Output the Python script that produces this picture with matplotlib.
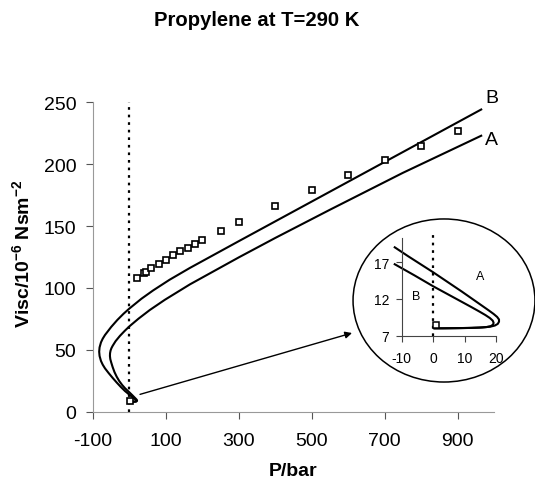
import numpy as np
import matplotlib
matplotlib.use('Agg')
import matplotlib.pyplot as plt
from matplotlib.patches import Ellipse

plt.rcParams['font.family'] = ['Liberation Sans', 'DejaVu Sans']
plt.rcParams['mathtext.fontset'] = 'custom'
plt.rcParams['mathtext.rm'] = 'Liberation Sans'
plt.rcParams['mathtext.bf'] = 'Liberation Sans:bold'
plt.rcParams['axes.unicode_minus'] = False

# ── data ─────────────────────────────────────────────────────────────────────
# model curve A (pressure in bar, viscosity in 10^-6 Nsm^-2), traced from the
# liquid end round the loop and up to high pressure
a_p = [0.3, 4, 8, 12, 15.5, 18, 19.5, 20.4, 20.8, 20.8, 20.2, 19.1, 17.5,
       15.5, 13, 9, 4.5, 0, -4, -8, -12.2, -20, -28, -35, -41, -46, -50,
       -52.5, -53.5, -53.2, -51.7, -49.3, -46.1, -38, -26, -13, 0, 25, 56,
       97, 166, 300, 400, 550, 750, 965]
a_v = [8.0, 8.01, 8.03, 8.06, 8.12, 8.22, 8.38, 8.6, 8.9, 9.2, 9.55, 9.95,
       10.45, 11.05, 11.8, 13.0, 14.3, 15.6, 16.7, 17.8, 19.0, 21.6, 24.8,
       28.3, 32.0, 36.0, 39.8, 42.5, 45.0, 47.3, 49.5, 51.4, 53.2, 57.0, 61.3,
       65.3, 69.0, 75.2, 82.2, 90.4, 102.9, 124.7, 140.4, 163.2, 193.0, 223.0]

# model curve B
b_p = [0.5, 3, 7, 11, 14.5, 16.8, 18.2, 18.9, 19.1, 18.8, 17.9, 16.5, 14.5,
       12, 6, 0, -6, -12.2, -24, -35, -46, -57, -67, -73.3, -78.1, -81.9,
       -83, -81.9, -78.1, -73.3, -67, -50, -33, -16, 0, 33, 65, 110, 166,
       300, 400, 550, 750, 965]
b_v = [8.0, 8.0, 8.02, 8.05, 8.1, 8.17, 8.3, 8.5, 8.75, 9.05, 9.4, 9.8, 10.3,
       10.9, 12.3, 13.7, 15.2, 16.7, 20.1, 23.6, 27.3, 31.2, 35.0, 38.0, 41.0,
       45.0, 48.5, 52.0, 56.0, 59.0, 62.0, 68.5, 74.2, 79.2, 83.4, 91.3, 98.0,
       106.6, 116.2, 137.8, 153.8, 177.8, 209.8, 244.2]

# experimental points
exp_p = [1, 20, 40, 45, 60, 80, 100, 120, 140, 160, 180, 200, 250, 300, 400,
         500, 600, 700, 800, 900]
exp_v = [8.5, 107.8, 112, 113, 115.9, 119.3, 122.8, 126.4, 129.8, 132.5,
         135.7, 139, 146.3, 153.3, 166, 178.9, 191.3, 203.1, 214.9, 226.8]

x_ticks = [-100, 100, 300, 500, 700, 900]
y_ticks = [0, 50, 100, 150, 200, 250]
inset_x_ticks = [-10, 0, 10, 20]
inset_y_ticks = [7, 12, 17]

a_p, a_v = np.array(a_p), np.array(a_v)
b_p, b_v = np.array(b_p), np.array(b_v)

# ── main plot ────────────────────────────────────────────────────────────────
fig = plt.figure(figsize=(5.35, 4.81), dpi=100)
ax = fig.add_axes([0.1738, 0.142, 0.7495, 0.6432])

ax.plot(a_p, a_v, color='black', lw=1.5, zorder=3)
ax.plot(b_p, b_v, color='black', lw=1.5, zorder=3)
ax.plot(exp_p, exp_v, ls='none', marker='s', ms=5, mfc='white',
        mec='black', mew=1.2, zorder=4, clip_on=False)
ax.plot([0, 0], [0, 250], color='black', lw=1.6, ls=(0, (1.2, 2.2)), zorder=2)

ax.set_xlim(-100, 1000)
ax.set_ylim(0, 250)
ax.set_xticks(x_ticks)
ax.set_yticks(y_ticks)
ax.tick_params(labelsize=14, length=5, width=0.8, color='#555555')
ax.tick_params(axis='x', pad=9.5)
ax.tick_params(axis='y', pad=7)
for s in ['top', 'right']:
    ax.spines[s].set_visible(False)
for s in ['left', 'bottom']:
    ax.spines[s].set_color('#999999')
    ax.spines[s].set_linewidth(0.8)

ax.set_xlabel('P/bar', fontsize=14, fontweight='bold', va='center')
ax.xaxis.set_label_coords(0.5, -0.19)
ax.set_ylabel(r'Visc/10$^{\mathbf{-6}}$ Nsm$^{\mathbf{-2}}$', fontsize=14,
              fontweight='bold', va='center')
ax.yaxis.set_label_coords(-0.1746, 0.515)

ax.text(994, 254, 'B', fontsize=14, ha='center', va='center', clip_on=False)
ax.text(994, 220, 'A', fontsize=14, ha='center', va='center', clip_on=False)

fig.text(0.48, 0.958, 'Propylene at T=290 K', fontsize=14.6,
         fontweight='bold', ha='center', va='center')

# ── inset (zoom on the liquid end) ───────────────────────────────────────────
fig.patches.append(Ellipse((0.8299, 0.3732), 0.340, 0.339,
                           transform=fig.transFigure, fill=False,
                           edgecolor='black', lw=1.1))

ins = fig.add_axes([0.7508, 0.300, 0.1772, 0.2037])
ins.patch.set_alpha(0)
ma = (a_p >= -12.5) & (a_v < 20)
mb = (b_p >= -12.5) & (b_v < 20)
ins.plot(a_p[ma], a_v[ma], color='black', lw=1.5, clip_on=False)
ins.plot(b_p[mb], b_v[mb], color='black', lw=1.5, clip_on=False)
ins.plot(exp_p[:1], exp_v[:1], ls='none', marker='s', ms=4.5, mfc='white',
         mec='black', mew=1.1, zorder=4)
ins.plot([0, 0], [7, 20.7], color='black', lw=1.6, ls=(0, (1.2, 2.2)),
         clip_on=False)
ins.set_xlim(-10, 20)
ins.set_ylim(7, 20.3)
ins.set_xticks(inset_x_ticks)
ins.set_yticks(inset_y_ticks)
ins.tick_params(labelsize=10, length=4, width=0.8, color='#444444')
ins.tick_params(axis='x', pad=7)
ins.tick_params(axis='y', pad=5)
for s in ['top', 'right']:
    ins.spines[s].set_visible(False)
for s in ['left', 'bottom']:
    ins.spines[s].set_color('#444444')
    ins.spines[s].set_linewidth(0.8)
ins.text(14.8, 15.1, 'A', fontsize=9, ha='center', va='center')
ins.text(-5.3, 12.4, 'B', fontsize=9, ha='center', va='center')

# arrow from the main plot towards the inset
ax.annotate('', xy=(0.658, 0.3056), xycoords='figure fraction',
            xytext=(29, 14), textcoords='data',
            arrowprops=dict(arrowstyle='-|>', color='black', lw=1.0,
                            mutation_scale=10, shrinkA=0, shrinkB=0))

fig.savefig('out.png', dpi=100)
